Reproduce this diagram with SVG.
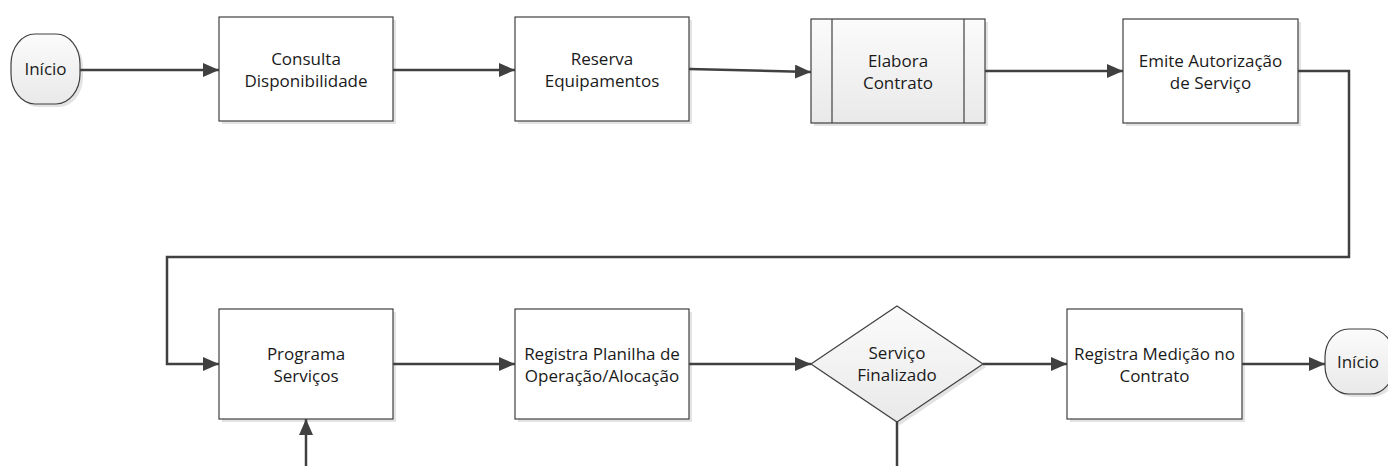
<svg xmlns="http://www.w3.org/2000/svg" width="1388" height="466" viewBox="0 0 1388 466">
<defs>
<linearGradient id="g" x1="0" y1="0" x2="0" y2="1">
<stop offset="0" stop-color="#fbfbfb"/>
<stop offset="1" stop-color="#e9e9e9"/>
</linearGradient>
<marker id="arr" markerWidth="16" markerHeight="14" viewBox="0 0 16 14" refX="16" refY="7" orient="auto" markerUnits="userSpaceOnUse">
<path d="M0,0 L16,7 L0,14 Z" fill="#404040"/>
</marker>
</defs>
<style>
.box{fill:#fff;stroke:#404040;stroke-width:1.2}
.gbox{fill:url(#g);stroke:#404040;stroke-width:1.2}
.sh{fill:#e3e3e3}
.t{font-family:"Open Sans","Noto Sans",sans-serif;font-size:17px;fill:#1a1a1a;text-anchor:middle}
.c{fill:none;stroke:#404040;stroke-width:2.5}
.ca{fill:none;stroke:#404040;stroke-width:2.5;marker-end:url(#arr)}
</style>
<rect width="1388" height="466" fill="#fff"/>

<g id="inicio1">
<rect class="sh" x="14" y="37" width="69" height="70" rx="24" ry="30"/>
<rect class="gbox" x="11" y="34" width="69" height="70" rx="24" ry="30"/>
<text class="t" x="45.5" y="75">Início</text>
</g>
<g id="consulta">
<rect class="sh" x="222" y="20" width="174" height="104"/>
<rect class="box" x="219" y="17" width="174" height="104"/>
<text class="t" x="306" y="65">Consulta</text>
<text class="t" x="306" y="87">Disponibilidade</text>
</g>
<g id="reserva">
<rect class="sh" x="518" y="20" width="174" height="104"/>
<rect class="box" x="515" y="17" width="174" height="104"/>
<text class="t" x="602" y="65">Reserva</text>
<text class="t" x="602" y="87">Equipamentos</text>
</g>
<g id="elabora">
<rect class="sh" x="814" y="22" width="174" height="104"/>
<rect class="gbox" x="811" y="19" width="174" height="104"/>
<line x1="832" y1="19" x2="832" y2="123" stroke="#404040" stroke-width="1.2"/>
<line x1="964" y1="19" x2="964" y2="123" stroke="#404040" stroke-width="1.2"/>
<text class="t" x="898" y="67">Elabora</text>
<text class="t" x="898" y="89">Contrato</text>
</g>
<g id="emite">
<rect class="sh" x="1126" y="22" width="175" height="104"/>
<rect class="box" x="1123" y="19" width="175" height="104"/>
<text class="t" x="1210.5" y="67">Emite Autorização</text>
<text class="t" x="1210.5" y="89">de Serviço</text>
</g>
<g id="programa">
<rect class="sh" x="222" y="312" width="174" height="110"/>
<rect class="box" x="219" y="309" width="174" height="110"/>
<text class="t" x="306" y="360">Programa</text>
<text class="t" x="306" y="382">Serviços</text>
</g>
<g id="planilha">
<rect class="sh" x="518" y="312" width="174" height="110"/>
<rect class="box" x="515" y="309" width="174" height="110"/>
<text class="t" x="602" y="360">Registra Planilha de</text>
<text class="t" x="602" y="382">Operação/Alocação</text>
</g>
<g id="finalizado">
<path class="sh" d="M900,309 L986,367 L900,425 L814,367 Z"/>
<path class="gbox" d="M897,306 L983,364 L897,422 L811,364 Z"/>
<text class="t" x="897" y="359">Serviço</text>
<text class="t" x="897" y="381">Finalizado</text>
</g>
<g id="medicao">
<rect class="sh" x="1070" y="312" width="175" height="110"/>
<rect class="box" x="1067" y="309" width="175" height="110"/>
<text class="t" x="1154.5" y="360">Registra Medição no</text>
<text class="t" x="1154.5" y="382">Contrato</text>
</g>
<g id="inicio2">
<rect class="sh" x="1328" y="332" width="69" height="65" rx="24" ry="28"/>
<rect class="gbox" x="1325" y="329" width="69" height="65" rx="24" ry="28"/>
<text class="t" x="1358" y="368">Início</text>
</g>

<g id="connectors">
<line class="ca" x1="80" y1="70" x2="219" y2="70"/>
<line class="ca" x1="393" y1="70" x2="515" y2="70"/>
<line class="ca" x1="689" y1="69" x2="811" y2="72"/>
<line class="ca" x1="985" y1="71" x2="1123" y2="71"/>
<polyline class="ca" points="1298,71 1349,71 1349,257 167,257 167,364 219,364"/>
<line class="ca" x1="393" y1="364" x2="515" y2="364"/>
<line class="ca" x1="689" y1="364" x2="811" y2="364"/>
<line class="ca" x1="983" y1="364" x2="1067" y2="364"/>
<line class="ca" x1="1242" y1="364" x2="1325" y2="364"/>
<line class="ca" x1="306" y1="466" x2="306" y2="419"/>
<line class="c" x1="897" y1="422" x2="897" y2="466"/>
</g>
</svg>
